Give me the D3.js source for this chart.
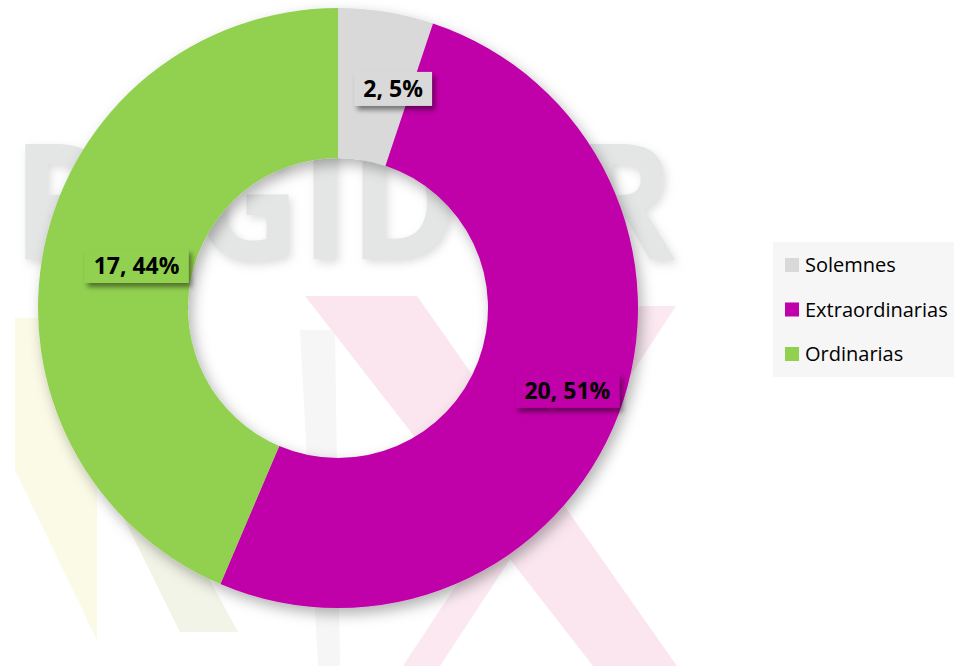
<!DOCTYPE html>
<html>
<head>
<meta charset="utf-8">
<script src="https://cdn.jsdelivr.net/npm/d3@7"></script>
<style>
  html, body { margin: 0; padding: 0; background: #ffffff; }
  svg { display: block; }
</style>
</head>
<body>
<div id="chart"></div>
<script>
// data
const categories = ["Solemnes", "Extraordinarias", "Ordinarias"];
const values = [2, 20, 17];
const percents = ["5%", "51%", "44%"];
const colors = ["#d9d9d9", "#c000a8", "#92d050"];

const width = 954, height = 666;
const cx = 338, cy = 308;
const outerR = 300, innerR = 150;

const svg = d3.select("#chart").append("svg")
    .attr("width", width)
    .attr("height", height);

const defs = svg.append("defs");

// soft shadow under the ring
const f1 = defs.append("filter").attr("id", "ringShadow")
    .attr("x", "-20%").attr("y", "-20%").attr("width", "140%").attr("height", "140%");
f1.append("feDropShadow").attr("dx", 4).attr("dy", 6).attr("stdDeviation", 7)
    .attr("flood-color", "#000").attr("flood-opacity", 0.3);

// shadow of the label boxes
const f2 = defs.append("filter").attr("id", "boxShadow")
    .attr("x", "-20%").attr("y", "-30%").attr("width", "150%").attr("height", "180%");
f2.append("feDropShadow").attr("dx", 3).attr("dy", 4).attr("stdDeviation", 2.5)
    .attr("flood-color", "#000").attr("flood-opacity", 0.45);

const wmBlur = defs.append("filter").attr("id", "wmShadow")
    .attr("x", "-10%").attr("y", "-10%").attr("width", "120%").attr("height", "130%");
wmBlur.append("feDropShadow").attr("dx", 3).attr("dy", 4).attr("stdDeviation", 4)
    .attr("flood-color", "#bbb").attr("flood-opacity", 0.5);

// ---- faint watermark logo behind the chart ----
const wm = svg.append("g").attr("class", "watermark");
wm.append("text")
    .attr("x", 12).attr("y", 259)
    .attr("textLength", 663).attr("lengthAdjust", "spacingAndGlyphs")
    .attr("font-family", "Open Sans, sans-serif")
    .attr("font-weight", 700)
    .attr("font-size", 162)
    .attr("fill", "#e4e5e5")
    .attr("filter", "url(#wmShadow)")
    .text("REGIDOR");

const line = d3.line();
wm.append("path")
    .attr("d", line([[15, 318], [97, 318], [97, 640], [15, 470]]) + "Z")
    .attr("fill", "#fbfae6");
wm.append("path")
    .attr("d", line([[100, 470], [150, 470], [238, 632], [180, 632]]) + "Z")
    .attr("fill", "#f1f4e6");
wm.append("path")
    .attr("d", line([[300, 330], [335, 330], [340, 666], [318, 666]]) + "Z")
    .attr("fill", "#f6f6f6");
wm.append("path")
    .attr("d", line([[305, 296], [417, 296], [677, 666], [593, 666]]) + "Z")
    .attr("fill", "#fbe6ef");
wm.append("path")
    .attr("d", line([[640, 306], [676, 306], [440, 666], [403, 666]]) + "Z")
    .attr("fill", "#fbe6ef").attr("opacity", 0.9);

// ---- donut ----
const pie = d3.pie().sort(null).value(d => d.value);
const data = categories.map((c, i) => ({ name: c, value: values[i], pct: percents[i], color: colors[i] }));
const arcs = pie(data);

const arc = d3.arc().innerRadius(innerR).outerRadius(outerR);
const labelArc = d3.arc().innerRadius(225).outerRadius(225);

const g = svg.append("g").attr("transform", `translate(${cx},${cy})`);

g.append("g")
    .attr("filter", "url(#ringShadow)")
  .selectAll("path")
  .data(arcs)
  .join("path")
    .attr("d", arc)
    .attr("fill", d => d.data.color);

// data labels (value, percent) in boxes of the slice colour
const labelShift = [19, 3];
const lab = g.append("g").selectAll("g")
  .data(arcs)
  .join("g")
    .attr("transform", d => {
      const [x, y] = labelArc.centroid(d);
      return `translate(${x + labelShift[0]},${y + labelShift[1]})`;
    });

const txt = lab.append("text")
    .attr("text-anchor", "middle")
    .attr("y", 8)
    .attr("font-family", "Open Sans, sans-serif")
    .attr("font-weight", 700)
    .attr("font-size", 23)
    .attr("fill", "#000")
    .text(d => `${d.data.value}, ${d.data.pct}`);

txt.each(function () {
  const b = this.getBBox();
  d3.select(this.parentNode).insert("rect", "text")
    .attr("x", -b.width / 2 - 9)
    .attr("y", -17)
    .attr("width", b.width + 18)
    .attr("height", 34)
    .attr("fill", d3.select(this.parentNode).datum().data.color)
    .attr("filter", "url(#boxShadow)");
});

// ---- legend ----
const legend = svg.append("g").attr("transform", "translate(773,242)");
legend.append("rect")
    .attr("width", 181).attr("height", 135)
    .attr("fill", "#f6f6f6");

const item = legend.selectAll("g.item")
  .data(data)
  .join("g")
    .attr("class", "item")
    .attr("transform", (d, i) => `translate(12,${16 + i * 44.5})`);

item.append("rect")
    .attr("width", 14).attr("height", 14)
    .attr("fill", d => d.color);

item.append("text")
    .attr("x", 20).attr("y", 14)
    .attr("font-family", "Open Sans, sans-serif")
    .attr("font-size", 20)
    .attr("fill", "#000")
    .text(d => d.name);
</script>
</body>
</html>
